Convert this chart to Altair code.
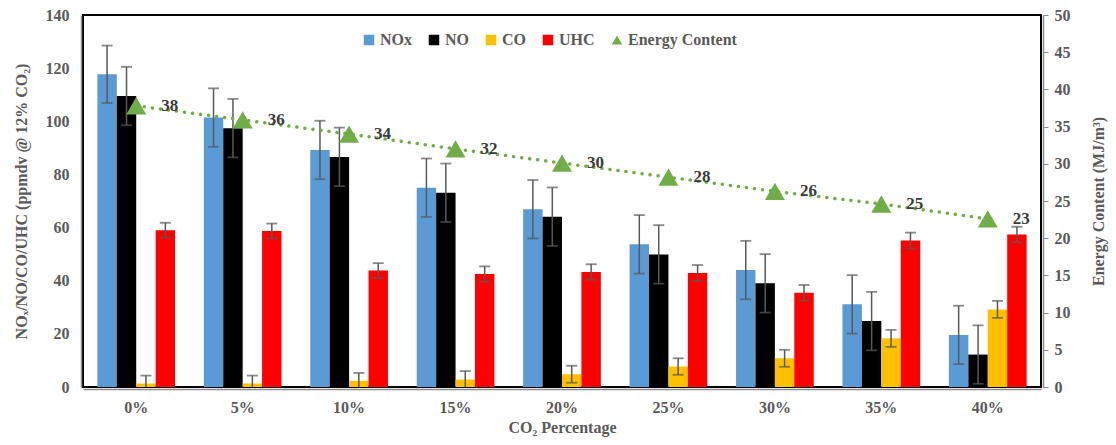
import altair as alt
import pandas as pd

# CO2 dilution levels on the x axis
categories = ["0%", "5%", "10%", "15%", "20%", "25%", "30%", "35%", "40%"]

# Emissions (ppmdv @ 12% CO2) and their error half-widths
nox = [117.7, 101.4, 89.2, 75.0, 66.9, 53.7, 44.0, 31.1, 19.6]
nox_err = [10.8, 11.0, 11.0, 11.0, 11.0, 11.0, 11.0, 11.0, 11.0]
no = [109.5, 97.4, 86.6, 73.1, 64.1, 49.9, 39.0, 24.8, 12.2]
no_err = [11.0, 11.0, 11.0, 11.0, 11.0, 11.0, 11.0, 11.0, 11.0]
co = [1.3, 1.3, 2.3, 2.8, 4.8, 7.7, 10.8, 18.3, 29.2]
co_err = [3.0, 3.0, 3.0, 3.2, 3.2, 3.1, 3.2, 3.2, 3.2]
uhc = [59.0, 58.7, 43.8, 42.5, 43.3, 42.9, 35.5, 55.1, 57.4]
uhc_err = [2.8, 2.8, 2.8, 2.9, 2.9, 3.0, 2.9, 3.0, 2.9]

# Energy content of the blend (MJ/m3)
energy = [37.8, 35.9, 34.0, 32.0, 30.1, 28.2, 26.3, 24.6, 22.6]

bar_series = ["NOx", "NO", "CO", "UHC"]
all_series = bar_series + ["Energy Content"]
colors = ["#5B9BD5", "#000000", "#FFC000", "#FF0000", "#70AD47"]
shapes = ["square", "square", "square", "square", "triangle-up"]

rows = []
for name, vals, errs in [("NOx", nox, nox_err), ("NO", no, no_err),
                         ("CO", co, co_err), ("UHC", uhc, uhc_err)]:
    for c, v, e in zip(categories, vals, errs):
        rows.append({"cat": c, "series": name, "value": v,
                     "lo": v - e, "hi": v + e})
bars_df = pd.DataFrame(rows)
energy_df = pd.DataFrame({"cat": categories, "energy": energy,
                          "series": "Energy Content"})

FONT = "'Liberation Serif', 'Times New Roman', serif"
GRAY = "#595959"

legend_opts = dict(title=None, orient="none", direction="horizontal",
                   legendX=278, legendY=17, symbolSize=110, labelFontSize=16,
                   labelFont=FONT, labelFontWeight="bold", labelColor=GRAY,
                   columnPadding=14, labelOffset=3, symbolStrokeWidth=0)

x_enc = alt.X("cat:N", sort=categories,
              scale=alt.Scale(paddingInner=0.27, paddingOuter=0.135),
              axis=alt.Axis(title="CO\u2082 Percentage", labelAngle=0,
                            ticks=False, domainColor="#8c8c8c",
                            domainWidth=1.5, offset=2, labelPadding=10,
                            titlePadding=4))
x_plain = alt.X("cat:N", sort=categories)
x_off = alt.XOffset("series:N", sort=bar_series,
                    scale=alt.Scale(domain=bar_series, paddingInner=0,
                                    paddingOuter=0))
color_enc = alt.Color("series:N",
                      scale=alt.Scale(domain=all_series, range=colors),
                      legend=alt.Legend(**legend_opts))

base = alt.Chart(bars_df)
bars = base.mark_bar().encode(
    x=x_enc,
    xOffset=x_off,
    y=alt.Y("value:Q", scale=alt.Scale(domain=[0, 140], nice=False),
            axis=alt.Axis(title="NO\u2093/NO/CO/UHC (ppmdv @ 12% CO\u2082)",
                          values=list(range(0, 141, 20)), grid=False,
                          ticks=False, domainColor="#8c8c8c",
                          domainWidth=1.5, offset=2, labelPadding=12,
                          titlePadding=16)),
    color=color_enc,
)
stems = base.mark_rule(clip=True, color=GRAY, strokeWidth=1.5).encode(
    x=x_plain, xOffset=x_off, y="lo:Q", y2="hi:Q")
cap_hi = base.mark_tick(clip=True, color=GRAY, thickness=1.8, size=11).encode(
    x=x_plain, xOffset=x_off, y="hi:Q")
cap_lo = base.mark_tick(clip=True, color=GRAY, thickness=1.8, size=11).encode(
    x=x_plain, xOffset=x_off, y="lo:Q")
left = alt.layer(bars, stems, cap_hi, cap_lo)

# Secondary axis for the energy content line
y_right = alt.Y("energy:Q", scale=alt.Scale(domain=[0, 50], nice=False),
                axis=alt.Axis(title="Energy Content (MJ/m\u00b3)",
                              orient="right", values=list(range(0, 51, 5)),
                              grid=False, tickSize=5, tickColor="#8c8c8c",
                              domainColor="#8c8c8c", domainWidth=1.5,
                              offset=2, labelPadding=6, titlePadding=36,
                              titleAngle=270))
ebase = alt.Chart(energy_df)
line = ebase.mark_line(color="#70AD47", strokeWidth=3.5, strokeDash=[0.1, 8],
                       strokeCap="round").encode(x=x_plain, y=y_right)
points = ebase.mark_point(filled=True, size=400, opacity=1).encode(
    x=x_plain,
    y=y_right,
    color=color_enc,
    shape=alt.Shape("series:N",
                    scale=alt.Scale(domain=all_series, range=shapes),
                    legend=alt.Legend(**legend_opts)),
)
labels = ebase.mark_text(align="left", baseline="middle", dx=25, font=FONT,
                         fontWeight="bold", fontSize=17,
                         color="#3a3a3a").encode(
    x=x_plain, y=y_right,
    text=alt.Text("energy:Q", format=".0f"))
right = alt.layer(line, points, labels)

chart = alt.layer(left, right).resolve_scale(y="independent").properties(
    width=958, height=372,
    autosize=alt.AutoSizeParams(type="none"),
    padding={"left": 83, "top": 15, "right": 75, "bottom": 58},
).configure_view(stroke="#000000", strokeWidth=2).configure_axis(
    labelFont=FONT, labelFontSize=16, labelFontWeight="bold",
    labelColor=GRAY, titleFont=FONT, titleFontSize=16,
    titleFontWeight="bold", titleColor=GRAY,
)

chart.save("out.html", embed_options={"renderer": "svg", "actions": False})
